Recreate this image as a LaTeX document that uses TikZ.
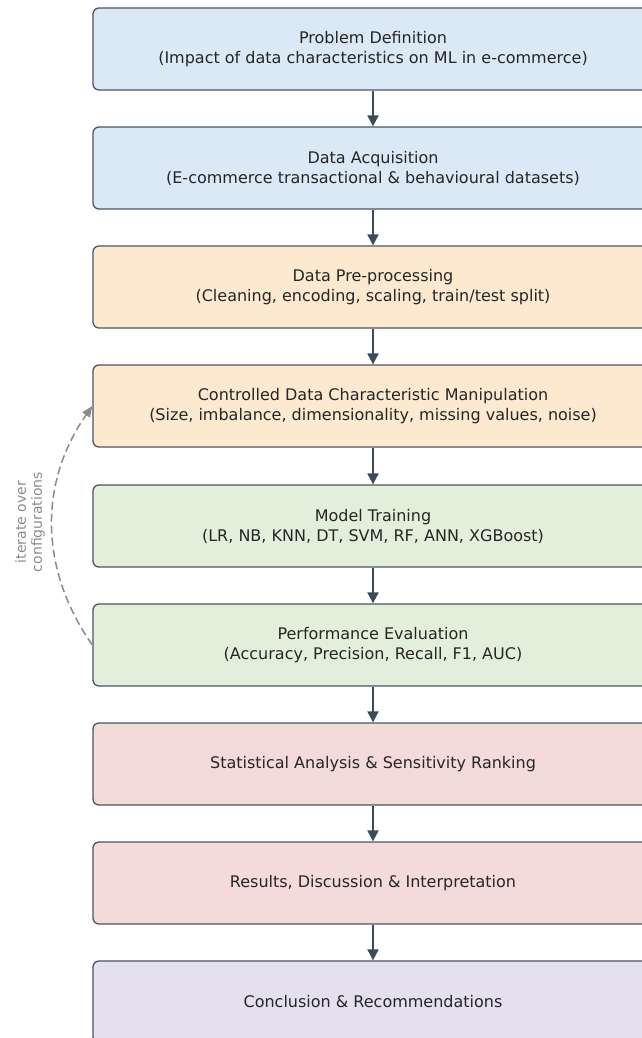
\documentclass[tikz,border=0pt]{standalone}
\usepackage{fontspec}
\setmainfont{DejaVu Sans}
\usetikzlibrary{arrows.meta}

\definecolor{edgegray}{HTML}{4A5561}
\definecolor{arrowslate}{HTML}{3B4B5C}
\definecolor{loopgray}{HTML}{8A8A8A}
\definecolor{blueF}{HTML}{DBE8F5}
\definecolor{orangeF}{HTML}{FDE8D0}
\definecolor{greenF}{HTML}{E2EFDA}
\definecolor{pinkF}{HTML}{F5DADA}
\definecolor{lilacF}{HTML}{E5E0F0}

\begin{document}
\begin{tikzpicture}[x=1pt,y=-1pt]

  \tikzstyle{stage}=[draw=edgegray, line width=1.3pt, rounded corners=6pt,
    minimum width=560pt, minimum height=82pt, align=center, text=black!85,
    font=\fontsize{16}{20}\selectfont]
  \tikzstyle{flow}=[draw=arrowslate, line width=2pt, -{Triangle[length=11pt,width=11pt]}]
  \useasboundingbox (0,0) rectangle (641,1038);

  \node [stage, fill=blueF] (def) at (373,49) {Problem Definition\\(Impact of data characteristics on ML in e-commerce)};
  \node [stage, fill=blueF] (acq) at (373,168) {Data Acquisition\\(E-commerce transactional \& behavioural datasets)};
  \node [stage, fill=orangeF] (prep) at (373,287) {Data Pre-processing\\(Cleaning, encoding, scaling, train/test split)};
  \node [stage, fill=orangeF] (manip) at (373,406) {Controlled Data Characteristic Manipulation\\(Size, imbalance, dimensionality, missing values, noise)};
  \node [stage, fill=greenF] (train) at (373,526) {Model Training\\(LR, NB, KNN, DT, SVM, RF, ANN, XGBoost)};
  \node [stage, fill=greenF] (eval) at (373,645) {Performance Evaluation\\(Accuracy, Precision, Recall, F1, AUC)};
  \node [stage, fill=pinkF] (stat) at (373,764) {Statistical Analysis \& Sensitivity Ranking};
  \node [stage, fill=pinkF] (res) at (373,883) {Results, Discussion \& Interpretation};
  \node [stage, fill=lilacF] (concl) at (373,1002) {Conclusion \& Recommendations};

  \draw [flow] (def) -- (acq);
  \draw [flow] (acq) -- (prep);
  \draw [flow] (prep) -- (manip);
  \draw [flow] (manip) -- (train);
  \draw [flow] (train) -- (eval);
  \draw [flow] (eval) -- (stat);
  \draw [flow] (stat) -- (res);
  \draw [flow] (res) -- (concl);

  \draw [loopgray, line width=1.5pt, dash pattern=on 8pt off 4pt, -{Triangle[length=11pt,width=9pt]}]
    (eval.west) to[bend left=35] (manip.west);
  \node [loopgray, rotate=90, align=center, font=\fontsize{14}{16}\selectfont] (loop) at (30,522) {iterate over\\configurations};

\end{tikzpicture}
\end{document}
